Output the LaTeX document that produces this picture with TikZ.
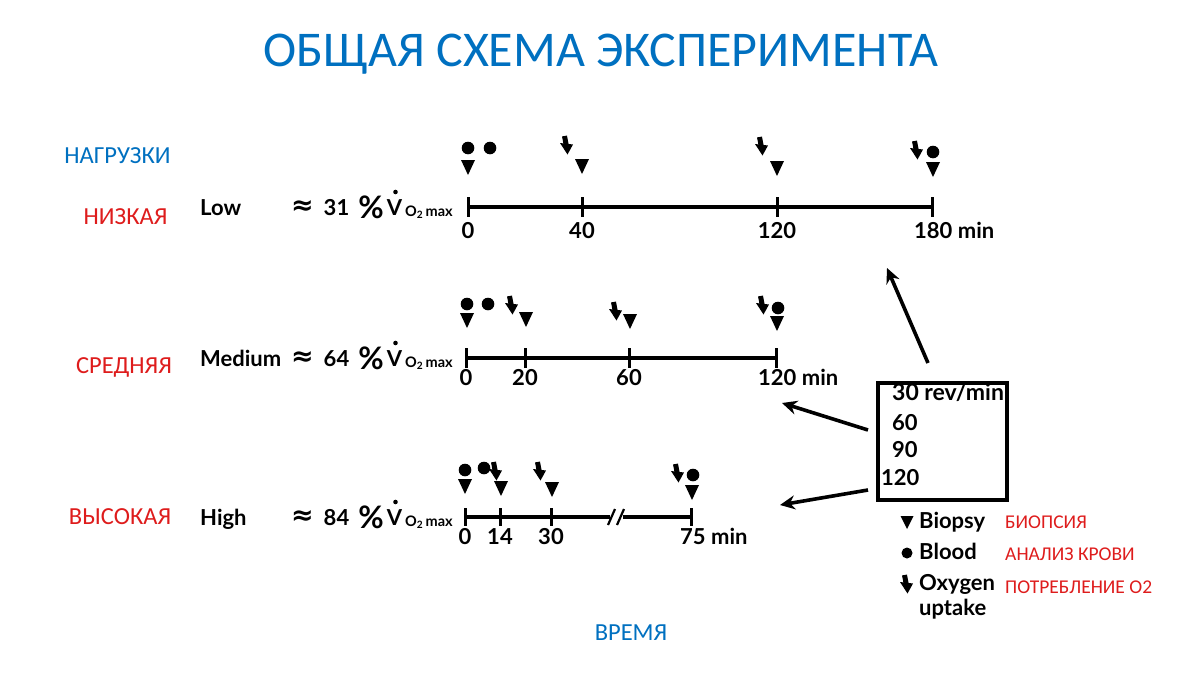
\documentclass[tikz,border=0pt]{standalone}
\usepackage{fontspec}
\usetikzlibrary{arrows.meta}
\setmainfont{Carlito}
\newfontfamily\gill{Lato}
\newfontfamily\dejavu{DejaVu Sans}
\definecolor{titleblue}{RGB}{0,112,192}
\definecolor{rusred}{RGB}{222,28,28}
\begin{document}
\begin{tikzpicture}[x=1pt,y=-1pt,
  rus/.style={font=\fontsize{24.5}{28}\selectfont, text=rusred, inner sep=0pt, anchor=base},
  rusblue/.style={font=\fontsize{24.5}{28}\selectfont, text=titleblue, inner sep=0pt, anchor=base},
  legred/.style={font=\fontsize{19.5}{22}\selectfont, text=rusred, inner sep=0pt, anchor=base west},
  fig/.style={font=\gill\bfseries\fontsize{22}{25}\selectfont, inner sep=0pt},
  figb/.style={fig, anchor=base},
  figw/.style={fig, anchor=base west},
  approxs/.style={font=\dejavu\bfseries\fontsize{27}{30}\selectfont, inner sep=0pt},
  pct/.style={font=\gill\bfseries\fontsize{31}{33}\selectfont, inner sep=0pt, anchor=base},
  subs/.style={font=\gill\bfseries\fontsize{14.5}{16}\selectfont, inner sep=0pt, anchor=base west},
  axisline/.style={line width=3.8pt},
  tickline/.style={line width=3pt},
  conn/.style={line width=3.6pt, -{Stealth[length=15pt,width=14pt]}},
  tri/.pic={\fill (-7,-7) -- (7,-7) -- (0,8) -- cycle;},
  blob/.pic={\fill (0,0) circle (6.3);},
  oxy/.pic={\draw[line width=5pt] (-2.5,-10) -- (-0.8,-1); \fill (-7,-3) -- (6,-1.5) -- (0.5,8.5) -- cycle;},
  ltri/.pic={\fill (-6.5,-6) -- (6.5,-6) -- (0,7) -- cycle;},
  lblob/.pic={\fill (0,0) circle (5.5);},
  vdot/.pic={\fill (0,0) circle (2.3);}
]
\useasboundingbox (0,0) rectangle (1200,675);

% title and labels
\node[font=\fontsize{50}{58}\selectfont, text=titleblue, inner sep=0pt, anchor=base] (title) at (601,66) {ОБЩАЯ СХЕМА ЭКСПЕРИМЕНТА};
\node[rusblue] (load) at (117.5,163) {НАГРУЗКИ};
\node[rus] (low-ru) at (125.5,224) {НИЗКАЯ};
\node[rus] (med-ru) at (124,373) {СРЕДНЯЯ};
\node[rus] (high-ru) at (120,524) {ВЫСОКАЯ};
\node[rusblue] (time) at (631,640) {ВРЕМЯ};

% row labels and intensities
\foreach \r/\lab/\pc/\b in {1/Low/31/215, 2/Medium/64/366, 3/High/84/525}{
  \node[figw] (name\r) at (200,\b) {\lab};
  \node[approxs] (apx\r) at (302.5,\b-7) {≈};
  \node[figb] (pcv\r) at (336.5,\b) {\pc};
  \node[pct] (pct\r) at (371,\b+3) {\%};
  \node[figb] (v\r) at (394.5,\b) {V};
  \pic at (395.5,\b-23) {vdot};
  \node[subs] (sub\r) at (405,\b+1) {O\textsubscript{2}\,max};
}

% ---- Row 1 (Low) ----
\foreach \n/\x in {a/468,b/582,c/777,d/932}{
  \coordinate (r1\n) at (\x,207);
  \coordinate (r1\n t) at (\x,197);
  \coordinate (r1\n b) at (\x,217);
  \draw[tickline] (r1\n t) -- (r1\n b);
}
\draw[axisline] (r1a) -- (r1d);
\node[figb] (l1a) at (468,238) {0};
\node[figb] (l1b) at (582,238) {40};
\node[figb] (l1c) at (777,238) {120};
\node[figw] (l1d) at (914,238) {180 min};
\pic at (468,148) {blob}; \pic at (468,167) {tri};
\pic at (490,148) {blob};
\pic at (567,146) {oxy}; \pic at (582,166) {tri};
\pic at (762,147) {oxy}; \pic at (777,168) {tri};
\pic at (917,151) {oxy}; \pic at (933,152) {blob}; \pic at (933,169) {tri};

% ---- Row 2 (Medium) ----
\foreach \n/\x in {a/466,b/525,c/629,d/776}{
  \coordinate (r2\n) at (\x,358);
  \coordinate (r2\n t) at (\x,348);
  \coordinate (r2\n b) at (\x,368);
  \draw[tickline] (r2\n t) -- (r2\n b);
}
\draw[axisline] (r2a) -- (r2d);
\node[figb] (l2a) at (466,385) {0};
\node[figb] (l2b) at (525,385) {20};
\node[figb] (l2c) at (629,385) {60};
\node[figw] (l2d) at (758,385) {120 min};
\pic at (467,304) {blob}; \pic at (467,320) {tri};
\pic at (488,304) {blob};
\pic at (512,306) {oxy}; \pic at (526,319) {tri};
\pic at (616,312) {oxy}; \pic at (630,321) {tri};
\pic at (763,306) {oxy}; \pic at (778,308) {blob}; \pic at (777,323) {tri};

% ---- Row 3 (High) ----
\foreach \n/\x in {a/465,b/500,c/551,d/691}{
  \coordinate (r3\n) at (\x,517);
  \coordinate (r3\n t) at (\x,508);
  \coordinate (r3\n b) at (\x,526);
  \draw[tickline] (r3\n t) -- (r3\n b);
}
\coordinate (brk1) at (610,517);
\coordinate (brk2) at (623,517);
\draw[axisline] (r3a) -- (brk1);
\draw[axisline] (brk2) -- (r3d);
\coordinate (s1a) at (608,525); \coordinate (s1b) at (615,509);
\coordinate (s2a) at (617,525); \coordinate (s2b) at (624,509);
\draw[line width=2.2pt] (s1a) -- (s1b);
\draw[line width=2.2pt] (s2a) -- (s2b);
\node[figb] (l3a) at (465,544) {0};
\node[figb] (l3b) at (500,544) {14};
\node[figb] (l3c) at (551,544) {30};
\node[figw] (l3d) at (680,544) {75 min};
\pic at (465,470) {blob}; \pic at (465,486) {tri};
\pic at (484,468) {blob};
\pic at (496,472) {oxy}; \pic at (501,488) {tri};
\pic at (540,472) {oxy}; \pic at (552,489) {tri};
\pic at (678,474) {oxy}; \pic at (693,475) {blob}; \pic at (692,492) {tri};

% ---- box ----
\node[draw, line width=3.2pt, minimum width=129pt, minimum height=117pt, inner sep=0pt] (box) at (942.5,441.5) {};
\node[figw, font=\gill\bfseries\fontsize{23}{25}\selectfont] (rpm30) at (892,400) {30 rev/min};
\node[figw] (rpm60) at (892,430) {60};
\node[figw] (rpm90) at (892,457) {90};
\node[figw] (rpm120) at (881,485) {120};

\coordinate (t1) at (887,268);
\coordinate (t2) at (782,403);
\coordinate (t3) at (780,505);
\coordinate (f1) at (928,363);
\coordinate (f2) at (868,430);
\coordinate (f3) at (868,490);
\draw[conn] (f1) -- (t1);
\draw[conn] (f2) -- (t2);
\draw[conn] (f3) -- (t3);

% ---- legend ----
\pic at (907,522) {ltri};
\node[figw] (biopsy) at (919,528) {Biopsy};
\pic at (907,553) {lblob};
\node[figw] (blood) at (919,559) {Blood};
\pic at (907,585) {oxy};
\node[figw] (oxygen) at (919,590) {Oxygen};
\node[figw] (uptake) at (919,615) {uptake};
\node[legred] (biopsy-ru) at (1005,528) {БИОПСИЯ};
\node[legred] (blood-ru) at (1005,560) {АНАЛИЗ КРОВИ};
\node[legred] (oxy-ru) at (1005,593) {ПОТРЕБЛЕНИЕ О2};
\end{tikzpicture}
\end{document}
